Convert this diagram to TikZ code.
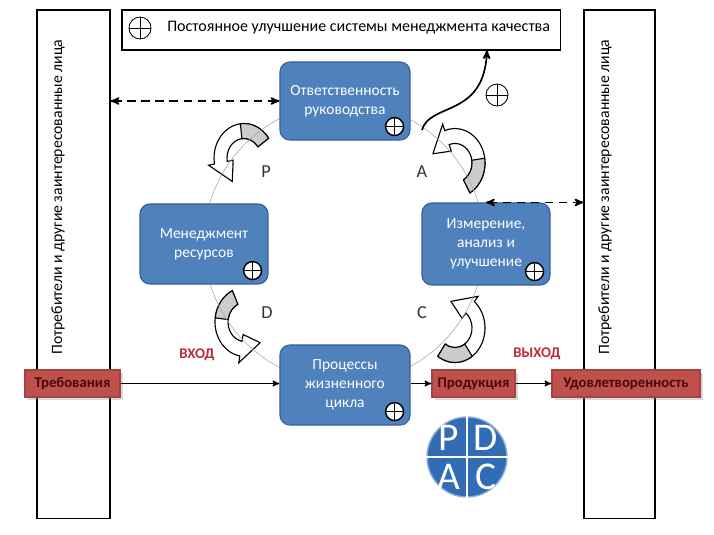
\documentclass[tikz,border=0pt]{standalone}
\usepackage{fontspec}
\setmainfont{Carlito}
\usetikzlibrary{positioning,arrows,calc,shadows}

\definecolor{nodeblue}{RGB}{79,129,189}
\definecolor{nodeedge}{RGB}{60,98,145}
\definecolor{boxred}{RGB}{192,80,77}
\definecolor{boxtext}{RGB}{70,10,10}
\definecolor{iored}{RGB}{185,45,55}
\definecolor{pdcablue}{RGB}{50,108,180}

% curved block arrow: centre x, centre y, start angle, end angle, tip angle
\newcommand{\bentarrow}[5]{%
  \begin{scope}[shift={(#1,#2)},yscale=1.15]
    \filldraw[fill=white,thick] (#3:30) arc[start angle=#3,end angle=#4,radius=30]
      -- (#4:36) -- (#5:23.5) -- (#4:11) -- (#4:17)
      arc[start angle=#4,end angle=#3,radius=17] -- cycle;
    \pgfmathsetmacro{\midang}{#3+0.4*(#4-#3)}
    \filldraw[fill=gray!40,thick] (#3:30) arc[start angle=#3,end angle=\midang,radius=30]
      -- (\midang:17) arc[start angle=\midang,end angle=#3,radius=17] -- cycle;
  \end{scope}}

\begin{document}
\begin{tikzpicture}[x=0.025cm,y=-0.025cm,>=stealth',thick,
    blue node/.style={rectangle,rounded corners=7pt,draw=nodeedge,fill=nodeblue,text=white,
      align=center,font=\fontsize{11}{13.5}\selectfont,line width=0.8pt},
    red node/.style={rectangle,draw=boxred!85!black,fill=boxred,text=boxtext,
      font=\bfseries\fontsize{10.5}{12}\selectfont,minimum height=0.675cm,
      drop shadow={shadow xshift=2pt,shadow yshift=-2pt,opacity=0.3}},
    tall node/.style={rectangle,draw,minimum height=12.7cm},
    side text/.style={font=\fontsize{11.2}{12}\selectfont},
    plus node/.style={circle,draw,fill=white,line width=1pt,minimum size=0.45cm,inner sep=0pt,
      path picture={\draw[line width=0.7pt] (path picture bounding box.north) -- (path picture bounding box.south)
        (path picture bounding box.west) -- (path picture bounding box.east);}},
    dash link/.style={<->,line width=1.2pt,dash pattern=on 6pt off 4pt},
    io label/.style={text=iored,font=\bfseries\fontsize{10.5}{12}\selectfont},
    cycle label/.style={text=black!80,font=\fontsize{13}{14}\selectfont},
    pdca letter/.style={text=white,inner sep=0pt,font=\fontsize{28}{28}\selectfont}]
\useasboundingbox (0,0) rectangle (714,534);

% stakeholders on both sides
\node[tall node,minimum width=1.825cm] (custL) at (73.5,264) {};
\node[tall node,minimum width=1.775cm] (custR) at (619.5,264) {};
\node[side text,rotate=90] (txtL) at (58,197) {Потребители и другие заинтересованные лица};
\node[side text,rotate=90] (txtR) at (605,197) {Потребители и другие заинтересованные лица};

% improvement box
\node[draw,minimum width=10.95cm,minimum height=1cm] (topbox) at (341,30) {};
\node[plus node,minimum size=0.55cm,line width=0.6pt] (plusT) at (140,28) {};
\node[anchor=west,font=\fontsize{11.4}{13}\selectfont] (topText) at (162,28) {Постоянное улучшение системы менеджмента качества};

% PDCA cycle
\bentarrow{244}{158}{-35}{-190}{-240}
\bentarrow{455}{163}{60}{-110}{-160}
\bentarrow{245}{322}{-115}{-260}{-310}
\bentarrow{455}{328}{125}{-50}{-100}
\draw[gray!70,thin] (344,243) circle[radius=140];

\node[blue node,minimum width=3.25cm,minimum height=1.95cm] (resp) at (345,101) {Ответственность\\руководства};
\node[blue node,minimum width=3.2cm,minimum height=2cm] (res) at (204,244) {Менеджмент\\ресурсов};
\node[blue node,minimum width=3.2cm,minimum height=2.05cm] (meas) at (486,244) {Измерение,\\анализ и\\улучшение};
\node[blue node,minimum width=3.25cm,minimum height=2cm] (proc) at (345,385) {Процессы\\жизненного\\цикла};
\foreach \n in {resp,res,meas,proc}
  \node[plus node] (plus\n) at ($(\n.south east)+(-16,-14)$) {};

\node[cycle label] (lblP) at (266,172) {P};
\node[cycle label] (lblA) at (422,172) {A};
\node[cycle label] (lblD) at (267,313) {D};
\node[cycle label] (lblC) at (422,313) {C};

% links to stakeholders
\draw[dash link] (custL.east |- resp.west) -- (resp.west);
\draw[dash link] (meas.north) -- (meas.north -| custR.west);

\coordinate (aout) at (422,130);
\coordinate (qin) at (487,50);
\draw[->,line width=1.2pt] (aout) .. controls (430,102) and (484,118) .. (qin);
\node[plus node,minimum size=0.55cm,line width=0.6pt] (plusA) at (497,95) {};

% input and output
\node[red node,minimum width=2.375cm] (req) at (72.5,383.5) {Требования};
\node[red node,minimum width=2.075cm] (prod) at (473.5,383.5) {Продукция};
\node[red node,minimum width=3.7cm] (satis) at (626,383.5) {Удовлетворенность};
\draw[->] (req.east) -- (req.east -| proc.west);
\draw[->] (proc.east |- prod.west) -- (prod.west);
\draw[->] (prod.east) -- (satis.west);
\node[io label] (inLbl) at (197,355) {ВХОД};
\node[io label] (outLbl) at (537,354) {ВЫХОД};

% PDCA badge
\node[circle,fill=pdcablue,draw=pdcablue!55,line width=1pt,minimum size=2cm] (pdca) at (467,457) {};
\draw[white,line width=1.5pt] (pdca.north) -- (pdca.south) (pdca.west) -- (pdca.east);
\node[pdca letter] (pdcaP) at ($(pdca)+(-18,-19)$) {P};
\node[pdca letter] (pdcaD) at ($(pdca)+(19,-19)$) {D};
\node[pdca letter] (pdcaA) at ($(pdca)+(-18,20)$) {A};
\node[pdca letter] (pdcaC) at ($(pdca)+(19,20)$) {C};
\end{tikzpicture}
\end{document}
